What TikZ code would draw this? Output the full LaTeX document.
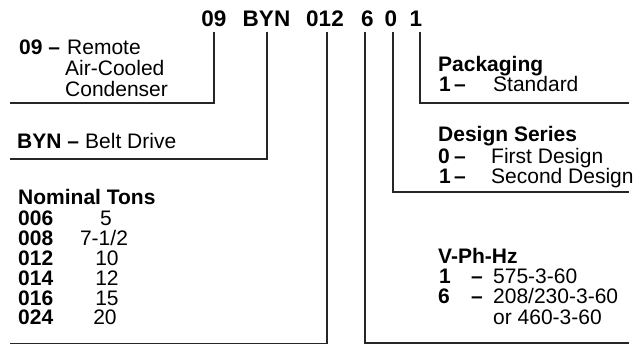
\documentclass[tikz,border=0pt]{standalone}
\usepackage{fontspec}
\setmainfont{Liberation Sans}
\begin{document}
\begin{tikzpicture}[x=1pt,y=-1pt,
  txt/.style={inner sep=0pt, anchor=base west, font=\fontsize{21}{21}\selectfont},
  ctr/.style={inner sep=0pt, anchor=base, font=\fontsize{21}{21}\selectfont},
  hdr/.style={inner sep=0pt, anchor=base, font=\fontsize{22.5}{22.5}\selectfont\bfseries},
  lead/.style={line width=1.8pt, line join=miter, color=black!85}]
\useasboundingbox (0,0) rectangle (638,344);
% header
\node[hdr] (h09) at (214,27) {09};
\node[hdr] (hbyn) at (266.5,27) {BYN};
\node[hdr] (h012) at (325,27) {012};
\node[hdr] (h6) at (367.5,27) {6};
\node[hdr] (h0) at (391,27) {0};
\node[hdr] (h1) at (416,27) {1};
% leader coordinates
\coordinate (t09) at (214,32);   \coordinate (c09) at (10,103);
\coordinate (tbyn) at (267,32);  \coordinate (cbyn) at (10,159);
\coordinate (t012) at (327,32);  \coordinate (c012) at (10,344.2);
\coordinate (t6) at (365,32);    \coordinate (c6) at (629,343.3);
\coordinate (t0) at (393,32);    \coordinate (c0) at (629,192);
\coordinate (t1) at (420,32);    \coordinate (c1) at (629,103);
\draw[lead] (t09) |- (c09);
\draw[lead] (tbyn) |- (cbyn);
\draw[lead] (t012) |- (c012);
\draw[lead] (t6) |- (c6);
\draw[lead] (t0) |- (c0);
\draw[lead] (t1) |- (c1);
% 09
\node[txt] (k09) at (19,55) {\bfseries 09 –};
\node[txt] (d09a) at (67,55) {Remote};
\node[txt] (d09b) at (65,76) {Air-Cooled};
\node[txt] (d09c) at (65,97) {Condenser};
% BYN
\node[txt] (kbyn) at (17,149) {\bfseries BYN –};
\node[txt] (dbyn) at (85,149) {Belt Drive};
% Nominal tons
\node[txt] (nt) at (18,205) {\bfseries Nominal Tons};
\node[txt] (n1) at (18,226) {\bfseries 006};   \node[ctr] (v1) at (106,226) {5};
\node[txt] (n2) at (18,245.5) {\bfseries 008}; \node[ctr] (v2) at (104,245.5) {7-1/2};
\node[txt] (n3) at (18,266) {\bfseries 012};   \node[ctr] (v3) at (107,266) {10};
\node[txt] (n4) at (18,286) {\bfseries 014};   \node[ctr] (v4) at (107,286) {12};
\node[txt] (n5) at (18,305.5) {\bfseries 016}; \node[ctr] (v5) at (107,305.5) {15};
\node[txt] (n6) at (18,325) {\bfseries 024};   \node[ctr] (v6) at (105,325) {20};
% Packaging
\node[txt] (pk) at (438,71.5) {\bfseries Packaging};
\node[txt] (pk1) at (439,91.5) {\bfseries 1};
\node[txt] (pkd) at (454,91.5) {\bfseries –};
\node[txt] (pkt) at (493,91.5) {Standard};
% Design series
\node[txt] (ds) at (438,142) {\bfseries Design Series};
\node[txt] (ds0) at (438,163.3) {\bfseries 0};
\node[txt] (ds0d) at (454,163.3) {\bfseries –};
\node[txt] (ds0t) at (491,163.3) {First Design};
\node[txt] (ds1) at (439,183.7) {\bfseries 1};
\node[txt] (ds1d) at (454,183.7) {\bfseries –};
\node[txt] (ds1t) at (491,183.7) {Second Design};
% V-Ph-Hz
\node[txt] (vp) at (438,264) {\bfseries V-Ph-Hz};
\node[txt] (vp1) at (439,284) {\bfseries 1};
\node[txt] (vp1d) at (471,284) {\bfseries –};
\node[txt] (vp1t) at (493,284) {575-3-60};
\node[txt] (vp6) at (438,304) {\bfseries 6};
\node[txt] (vp6d) at (471,304) {\bfseries –};
\node[txt] (vp6t) at (493,304) {208/230-3-60};
\node[txt] (vp6u) at (493,325) {or 460-3-60};
\end{tikzpicture}
\end{document}
